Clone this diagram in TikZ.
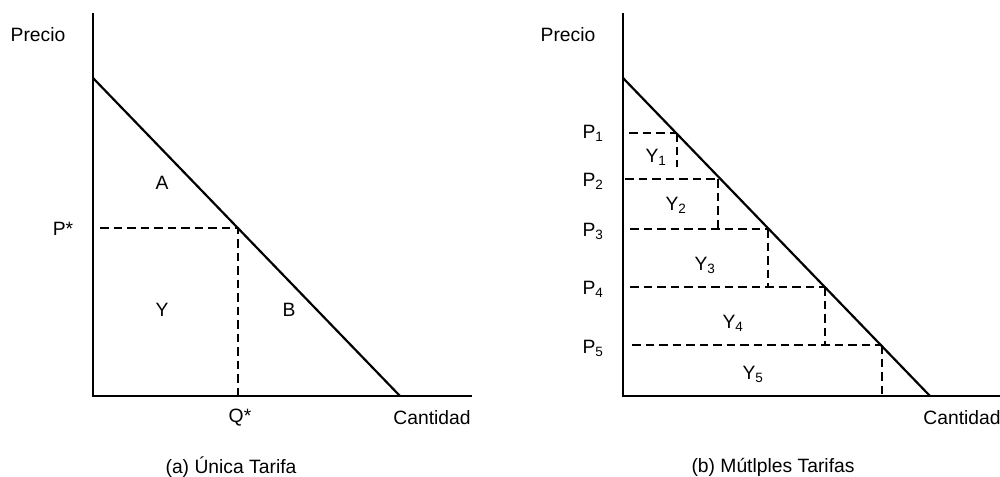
\documentclass[tikz,border=0pt]{standalone}
\usepackage{fontspec}
\setmainfont{Liberation Sans}
\begin{document}
\begin{tikzpicture}[x=1pt,y=-1pt,
  axis/.style={line width=2.2pt},
  demand/.style={line width=2.2pt},
  guide/.style={line width=2pt, dash pattern=on 8.5pt off 5pt},
  lbl/.style={inner sep=0pt, font=\fontsize{19.3}{21}\selectfont},
  sub/.style={inner sep=0pt, font=\fontsize{19.3}{21}\selectfont}]
\useasboundingbox (0,0) rectangle (1000,476);
% ---------- panel (a)
\coordinate (aTop) at (93,13);
\coordinate (aO) at (93,396);
\coordinate (aEnd) at (472,396);
\coordinate (aD1) at (93,78);
\coordinate (aD2) at (400,396);
\coordinate (aE) at (237.5,228);
\coordinate (aPs) at (100,228);
\coordinate (aQs) at (237.5,396);
\draw[axis] (aTop) -- (aO) -- (aEnd);
\draw[demand] (aD1) -- (aD2);
\draw[guide] (aPs) -- (aE) -- (aQs);
\node[lbl] (aPrecio) at (38,35) {Precio};
\node[lbl] (aPstar) at (63,229) {P*};
\node[lbl] (aA) at (162,183) {A};
\node[lbl] (aY) at (162,310) {Y};
\node[lbl] (aB) at (289,310) {B};
\node[lbl] (aQstar) at (240,418) {Q*};
\node[lbl] (aCant) at (432,418) {Cantidad};
\node[lbl] (aCap) at (231,467) {(a) Única Tarifa};
% ---------- panel (b)
\coordinate (bTop) at (623,13);
\coordinate (bO) at (623,396);
\coordinate (bEnd) at (1000,396);
\coordinate (bD1) at (623,78);
\coordinate (bD2) at (930,396);
\draw[axis] (bTop) -- (bO) -- (bEnd);
\draw[demand] (bD1) -- (bD2);
% step corners on the demand line
\coordinate (c1) at (677,133);
\coordinate (c2) at (718,179);
\coordinate (c3) at (767.5,229);
\coordinate (c4) at (824.5,287);
\coordinate (c5) at (881.5,345);
% left ends
\coordinate (l1) at (629,133);
\coordinate (l2) at (625,179);
\coordinate (l3) at (630,229);
\coordinate (l4) at (630,287);
\coordinate (l5) at (632,345);
% lower ends of verticals
\coordinate (v1) at (677,167);
\coordinate (v2) at (718,229);
\coordinate (v3) at (767.5,287);
\coordinate (v4) at (824.5,345);
\coordinate (v5) at (881.5,396);
\draw[guide] (l1) -- (c1) (c1) -- (v1);
\draw[guide] (l2) -- (c2) (c2) -- (v2);
\draw[guide] (l3) -- (c3) (c3) -- (v3);
\draw[guide] (l4) -- (c4) (c4) -- (v4);
\draw[guide] (l5) -- (c5) (c5) -- (v5);
\node[lbl] (bPrecio) at (568,35) {Precio};
\node[sub] (p1) at (593,133) {P\textsubscript{1}};
\node[sub] (p2) at (593,181) {P\textsubscript{2}};
\node[sub] (p3) at (593,231) {P\textsubscript{3}};
\node[sub] (p4) at (593,289) {P\textsubscript{4}};
\node[sub] (p5) at (593,348) {P\textsubscript{5}};
\node[sub] (y1) at (656,157) {Y\textsubscript{1}};
\node[sub] (y2) at (676,205) {Y\textsubscript{2}};
\node[sub] (y3) at (705,265) {Y\textsubscript{3}};
\node[sub] (y4) at (733,323) {Y\textsubscript{4}};
\node[sub] (y5) at (753,374) {Y\textsubscript{5}};
\node[lbl] (bCant) at (962,418) {Cantidad};
\node[lbl] (bCap) at (773,467) {(b) Mútlples Tarifas};
\end{tikzpicture}
\end{document}
